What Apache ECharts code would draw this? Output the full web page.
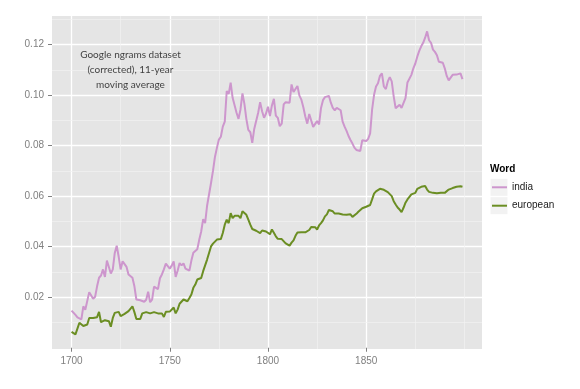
<!DOCTYPE html>
<html>
<head>
<meta charset="utf-8">
<script src="https://cdn.jsdelivr.net/npm/echarts@6/dist/echarts.min.js"></script>
<style>
html,body{margin:0;padding:0;background:#fff;}
#chart{width:580px;height:389px;}
</style>
</head>
<body>
<div id="chart"></div>
<script>
// ---- data ----
const startYear = 1700;
const india = [
  0.0147,0.0140,0.0130,0.0120,0.0115,0.0112,0.0164,0.0150,0.0153,0.0220,
  0.0215,0.0194,0.0202,0.0243,0.0277,0.0286,0.0310,0.0280,0.0345,0.0350,
  0.0294,0.0310,0.0375,0.0404,0.0360,0.0310,0.0342,0.0340,0.0320,0.0290,
  0.0283,0.0277,0.0243,0.0191,0.0188,0.0188,0.0190,0.0182,0.0190,0.0222,
  0.0180,0.0190,0.0242,0.0245,0.0232,0.0275,0.0290,0.0310,0.0333,0.0323,
  0.0313,0.0325,0.0342,0.0280,0.0305,0.0335,0.0326,0.0334,0.0313,0.0312,
  0.0305,0.0345,0.0376,0.0369,0.0390,0.0427,0.0460,0.0509,0.0493,0.0562,
  0.0562,0.0652,0.0700,0.0755,0.0791,0.0824,0.0835,0.0875,0.0895,0.1016,
  0.1005,0.1049,0.0989,0.0985,0.0930,0.0906,0.0943,0.1007,0.0965,0.0905,
  0.0862,0.0853,0.0811,0.0866,0.0870,0.0930,0.0972,0.0936,0.0910,0.0927,
  0.0954,0.0917,0.0959,0.0985,0.0919,0.0910,0.0877,0.0887,0.0963,0.0972,
  0.0967,0.0970,0.1042,0.1012,0.1005,0.1036,0.0998,0.0982,0.0952,0.0915,
  0.0887,0.0925,0.0927,0.0874,0.0880,0.0897,0.0884,0.0949,0.0980,0.0992,
  0.0988,0.0997,0.0970,0.0949,0.0940,0.0949,0.0945,0.0940,0.0895,0.0875,
  0.0858,0.0838,0.0822,0.0808,0.0792,0.0783,0.0780,0.0779,0.0821,0.0822,
  0.0818,0.0827,0.0848,0.0942,0.1001,0.1034,0.1047,0.1076,0.1086,0.1034,
  0.1024,0.1054,0.1071,0.1054,0.0995,0.0948,0.0955,0.0962,0.0949,0.0956,
  0.0988,0.1050,0.1054,0.1080,0.1106,0.1125,0.1152,0.1175,0.1193,0.1207,
  0.1227,0.1252,0.1217,0.1207,0.1180,0.1171,0.1158,0.1132,0.1135,0.1128,
  0.1106,0.1076,0.1058,0.1065,0.1080,0.1081,0.1081,0.1082,0.1086,0.1063
];
const european = [
  0.0063,0.0059,0.0053,0.0055,0.0099,0.0092,0.0086,0.0082,0.0092,0.0118,
  0.0121,0.0118,0.0120,0.0121,0.0142,0.0101,0.0103,0.0109,0.0103,0.0105,
  0.0083,0.0118,0.0138,0.0145,0.0142,0.0125,0.0130,0.0134,0.0141,0.0145,
  0.0151,0.0164,0.0141,0.0114,0.0118,0.0114,0.0136,0.0136,0.0141,0.0138,
  0.0136,0.0129,0.0141,0.0138,0.0136,0.0136,0.0136,0.0122,0.0142,0.0142,
  0.0143,0.0143,0.0159,0.0136,0.0151,0.0174,0.0175,0.0191,0.0193,0.0184,
  0.0197,0.0211,0.0237,0.0250,0.0270,0.0270,0.0276,0.0303,0.0303,0.0349,
  0.0346,0.0401,0.0412,0.0412,0.0428,0.0432,0.0430,0.0454,0.0487,0.0507,
  0.0493,0.0533,0.0513,0.0522,0.0526,0.0522,0.0513,0.0540,0.0543,0.0526,
  0.0507,0.0487,0.0470,0.0467,0.0463,0.0458,0.0454,0.0464,0.0460,0.0460,
  0.0455,0.0449,0.0468,0.0455,0.0441,0.0431,0.0431,0.0430,0.0425,0.0413,
  0.0407,0.0404,0.0416,0.0425,0.0443,0.0456,0.0457,0.0457,0.0458,0.0457,
  0.0453,0.0466,0.0478,0.0480,0.0477,0.0468,0.0484,0.0493,0.0504,0.0520,
  0.0528,0.0545,0.0550,0.0540,0.0531,0.0532,0.0531,0.0529,0.0527,0.0528,
  0.0526,0.0526,0.0528,0.0518,0.0515,0.0530,0.0538,0.0545,0.0552,0.0553,
  0.0558,0.0562,0.0565,0.0587,0.0610,0.0619,0.0623,0.0629,0.0633,0.0625,
  0.0620,0.0616,0.0613,0.0600,0.0580,0.0567,0.0555,0.0547,0.0537,0.0554,
  0.0574,0.0587,0.0597,0.0607,0.0611,0.0613,0.0629,0.0633,0.0637,0.0642,
  0.0640,0.0626,0.0617,0.0616,0.0613,0.0613,0.0611,0.0611,0.0613,0.0616,
  0.0613,0.0616,0.0626,0.0629,0.0632,0.0633,0.0637,0.0639,0.0639,0.0637
];
const seriesNames = ['india', 'european'];
const xTicks = [1700, 1750, 1800, 1850];
const xMinorGrid = [1725, 1775, 1825, 1875, 1900];
const yTicks = [0.02, 0.04, 0.06, 0.08, 0.10, 0.12];
const yMinorGrid = [0.01, 0.03, 0.05, 0.07, 0.09, 0.11, 0.13];
const legendTitle = 'Word';
const noteLines = ['Google ngrams dataset', '(corrected), 11-year', 'moving average'];
const notePos = [1730, 0.11];

// ---- build ----
const years = india.map((_, i) => startYear + i);
const toPairs = arr => arr.map((v, i) => [years[i], v]);

const chart = echarts.init(document.getElementById('chart'), null, {renderer: 'canvas'});
const axisGrey = '#7f7f7f';
const sansFont = 'Liberation Sans, Arial, sans-serif';
const option = {
  animation: false,
  backgroundColor: '#ffffff',
  grid: {left: 52, right: 98, top: 16, bottom: 40, show: true, backgroundColor: '#e5e5e5', borderWidth: 0},
  xAxis: {
    type: 'value', min: 1690.05, max: 1908.95,
    axisLine: {show: false},
    axisTick: {show: true, length: 4, customValues: xTicks, lineStyle: {color: axisGrey, width: 1}},
    axisLabel: {customValues: xTicks, color: axisGrey, fontSize: 10, fontFamily: sansFont, margin: 7,
      formatter: v => String(v)},
    splitLine: {show: true, lineStyle: {color: '#ffffff', width: 1.3}}
  },
  yAxis: {
    type: 'value', min: -0.0005, max: 0.1313,
    axisLine: {show: false},
    axisTick: {show: true, length: 4, customValues: yTicks, lineStyle: {color: axisGrey, width: 1}},
    axisLabel: {customValues: yTicks, color: axisGrey, fontSize: 10, fontFamily: sansFont, margin: 8,
      formatter: v => v.toFixed(2)},
    splitLine: {show: true, lineStyle: {color: '#ffffff', width: 1.3}}
  },
  legend: {
    data: seriesNames,
    orient: 'vertical', left: 492, top: 179.3, padding: 0,
    icon: 'rect', itemWidth: 15, itemHeight: 2, itemGap: 2.4,
    textStyle: {fontSize: 10, color: '#1a1a1a', fontFamily: sansFont, height: 16, lineHeight: 16, padding: 0},
    selectedMode: false
  },
  graphic: [
    {type: 'text', left: 490, top: 164.5, style: {text: legendTitle, font: 'bold 10px "Liberation Sans", Arial, sans-serif', fill: '#000'}},
    {type: 'rect', left: 490.5, top: 178.8, shape: {width: 17, height: 17}, style: {fill: '#f2f2f2'}, z: -1},
    {type: 'rect', left: 490.5, top: 197.2, shape: {width: 17, height: 17}, style: {fill: '#f2f2f2'}, z: -1}
  ],
  series: [
    {
      name: 'gridMinor', type: 'line', data: [], z: 1, silent: true,
      markLine: {
        silent: true, symbol: 'none', label: {show: false}, animation: false, z: 1,
        lineStyle: {color: '#f2f2f2', width: 0.7, type: 'solid'},
        data: xMinorGrid.map(v => ({xAxis: v})).concat(yMinorGrid.map(v => ({yAxis: v})))
      }
    },
    {
      name: seriesNames[0], type: 'line', data: toPairs(india), showSymbol: false, z: 6,
      lineStyle: {color: '#cd96cd', width: 2}, itemStyle: {color: '#cd96cd'}
    },
    {
      name: seriesNames[1], type: 'line', data: toPairs(european), showSymbol: false, z: 6,
      lineStyle: {color: '#6b8e23', width: 2}, itemStyle: {color: '#6b8e23'}
    },
    {
      name: 'note', type: 'scatter', data: [notePos], symbolSize: 0, silent: true, z: 7,
      label: {show: true, position: 'inside', formatter: noteLines.join('\n'),
        fontFamily: 'Lato, sans-serif', fontSize: 10, lineHeight: 15, color: '#111',
        textBorderWidth: 0, align: 'center', verticalAlign: 'middle'}
    }
  ]
};
chart.setOption(option);
</script>
</body>
</html>
